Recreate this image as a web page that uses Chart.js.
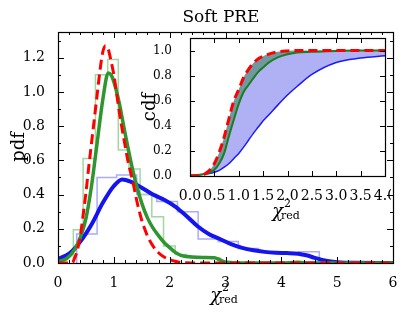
<!DOCTYPE html>
<html>
<head>
<meta charset="utf-8">
<script src="https://cdn.jsdelivr.net/npm/chart.js@4/dist/chart.umd.min.js"></script>
<style>
  html, body { margin: 0; padding: 0; background: #fff; }
  #wrap { position: relative; width: 407px; height: 318px; }
  #main { position: absolute; left: 0; top: 0; }
  #inset { position: absolute; left: 120px; top: 28px; }
</style>
</head>
<body>
<div id="wrap">
  <canvas id="main" width="407" height="318"></canvas>
  <canvas id="inset" width="271" height="200"></canvas>
</div>
<script>
// pdf panel: smooth curves
const blueX = [0, 0.2, 0.4, 0.6, 0.8, 1.0, 1.15, 1.3, 1.5, 1.7, 1.9, 2.1, 2.3, 2.5, 2.7, 2.9, 3.1, 3.3, 3.5, 3.7, 3.9, 4.1, 4.3, 4.45, 4.6, 4.8, 5.0, 5.3, 6.0];
const bluePdf = [0.023, 0.055, 0.125, 0.225, 0.35, 0.45, 0.488, 0.475, 0.44, 0.40, 0.37, 0.33, 0.275, 0.215, 0.17, 0.14, 0.11, 0.088, 0.074, 0.065, 0.06, 0.058, 0.054, 0.045, 0.03, 0.013, 0.005, 0.001, 0];

const greenX = [0, 0.15, 0.3, 0.4, 0.5, 0.6, 0.7, 0.8, 0.9, 0.95, 1.0, 1.1, 1.2, 1.3, 1.4, 1.5, 1.6, 1.7, 1.8, 1.9, 2.0, 2.1, 2.2, 2.4, 2.6, 2.8, 2.9, 3.0, 3.2, 4.0, 4.3, 4.5, 6.0];
const greenPdf = [0.01, 0.025, 0.08, 0.15, 0.26, 0.45, 0.70, 0.95, 1.11, 1.10, 1.06, 0.93, 0.76, 0.60, 0.46, 0.35, 0.265, 0.205, 0.16, 0.12, 0.09, 0.062, 0.045, 0.035, 0.032, 0.03, 0.018, 0.005, 0, 0, 0.004, 0, 0];

const redX = [0, 0.25, 0.3, 0.35, 0.4, 0.45, 0.5, 0.55, 0.6, 0.65, 0.7, 0.75, 0.8, 0.85, 0.9, 0.95, 1.0, 1.05, 1.1, 1.15, 1.2, 1.25, 1.3, 1.35, 1.4, 1.45, 1.5, 1.6, 1.7, 1.8, 1.9, 2.0, 2.1, 2.2, 2.4, 6.0];
const redPdf = [0, 0, 0.03, 0.08, 0.16, 0.28, 0.41, 0.56, 0.70, 0.84, 0.98, 1.12, 1.23, 1.27, 1.25, 1.18, 1.10, 0.99, 0.88, 0.78, 0.69, 0.60, 0.53, 0.46, 0.38, 0.31, 0.25, 0.16, 0.10, 0.06, 0.035, 0.02, 0.01, 0.003, 0, 0];

// pdf panel: step histograms (bin edges and heights)
const greenEdges = [0.275, 0.45, 0.67, 0.89, 1.08, 1.27, 1.47, 1.68, 1.89, 2.1, 2.3, 2.5, 2.7, 2.9, 3.1];
const greenHist = [0.195, 0.61, 1.10, 1.19, 0.66, 0.55, 0.40, 0.27, 0.10, 0.05, 0.03, 0.03, 0.03, 0.01];
const blueEdges = [0.335, 0.70, 1.05, 1.41, 1.77, 2.14, 2.51, 2.87, 3.23, 3.59, 3.95, 4.31, 4.68];
const blueHist = [0.17, 0.50, 0.515, 0.40, 0.36, 0.30, 0.14, 0.125, 0.085, 0.065, 0.055, 0.066];

// inset: cdf
const cdfX = [0, 0.2, 0.3, 0.4, 0.5, 0.6, 0.7, 0.8, 0.9, 1.0, 1.1, 1.2, 1.3, 1.4, 1.5, 1.6, 1.8, 2.0, 2.2, 2.5, 3.0, 3.5, 4.0];
const redCdf = [0, 0.002, 0.015, 0.045, 0.10, 0.19, 0.31, 0.46, 0.60, 0.69, 0.785, 0.85, 0.90, 0.935, 0.955, 0.97, 0.99, 0.997, 1, 1, 1, 1, 1];
const greenCdf = [0.005, 0.01, 0.015, 0.025, 0.05, 0.10, 0.18, 0.32, 0.45, 0.575, 0.67, 0.725, 0.78, 0.83, 0.865, 0.90, 0.945, 0.97, 0.985, 0.99, 0.997, 1, 1];
const blueCdf = [0, 0.01, 0.015, 0.02, 0.03, 0.045, 0.07, 0.10, 0.14, 0.18, 0.23, 0.285, 0.34, 0.39, 0.44, 0.48, 0.565, 0.645, 0.715, 0.81, 0.905, 0.94, 0.958];

const SERIF = '"DejaVu Serif", serif';

function pts(xs, ys) {
  return xs.map((x, i) => ({ x: x, y: ys[i] }));
}

function steps(edges, h) {
  const out = [{ x: edges[0], y: 0 }];
  h.forEach((v, i) => out.push({ x: edges[i], y: v }));
  out.push({ x: edges[edges.length - 1], y: 0 });
  return out;
}

function curve(data, color, width, dash) {
  return {
    data: data, borderColor: color, borderWidth: width, borderDash: dash || [],
    pointRadius: 0, cubicInterpolationMode: 'monotone', fill: false
  };
}

// box + inward ticks on all four sides
const frame = {
  id: 'frame',
  afterDraw(chart, args, o) {
    const { ctx, chartArea: a } = chart;
    const x = chart.scales.x, y = chart.scales.y;
    ctx.save();
    ctx.strokeStyle = '#000';
    ctx.lineWidth = 1;
    const marks = (scale, step, len, horiz) => {
      const n = Math.round((scale.max - scale.min) / step);
      for (let i = 0; i <= n; i++) {
        const v = scale.min + i * step;
        if (v > scale.max + 1e-9) break;
        const p = Math.round(scale.getPixelForValue(v)) + 0.5;
        ctx.beginPath();
        if (horiz) {
          ctx.moveTo(p, a.bottom); ctx.lineTo(p, a.bottom - len);
          ctx.moveTo(p, a.top); ctx.lineTo(p, a.top + len);
        } else {
          ctx.moveTo(a.left, p); ctx.lineTo(a.left + len, p);
          ctx.moveTo(a.right, p); ctx.lineTo(a.right - len, p);
        }
        ctx.stroke();
      }
    };
    marks(x, o.xMajor, o.major, true);
    marks(y, o.yMajor, o.major, false);
    if (o.xMinor) marks(x, o.xMinor, o.minor, true);
    if (o.yMinor) marks(y, o.yMinor, o.minor, false);
    ctx.lineWidth = 1.2;
    ctx.strokeRect(Math.round(a.left) + 0.5, Math.round(a.top) + 0.5,
      Math.round(a.right - a.left), Math.round(a.bottom - a.top));
    ctx.restore();
  }
};

function chiRed(ctx, cx, base) {
  ctx.save();
  ctx.fillStyle = '#000';
  ctx.textBaseline = 'alphabetic';
  ctx.textAlign = 'left';
  ctx.font = 'italic 18px ' + SERIF;
  const w = ctx.measureText('χ').width;
  ctx.font = '11px ' + SERIF;
  const ws = ctx.measureText('red').width;
  const x0 = cx - (w - 2 + ws) / 2;
  ctx.font = 'italic 18px ' + SERIF;
  ctx.fillText('χ', x0, base);
  ctx.font = '11px ' + SERIF;
  ctx.fillText('2', x0 + w + 1, base - 10);
  ctx.fillText('red', x0 + w - 2, base + 2);
  ctx.restore();
}

const mainText = {
  id: 'mainText',
  afterDraw(chart) {
    const ctx = chart.ctx;
    ctx.save();
    ctx.fillStyle = '#000';
    ctx.textAlign = 'center';
    ctx.textBaseline = 'alphabetic';
    ctx.font = '17px ' + SERIF;
    ctx.fillText('Soft PRE', 221, 22);
    ctx.translate(24, 147);
    ctx.rotate(-Math.PI / 2);
    ctx.font = '18px ' + SERIF;
    ctx.fillText('pdf', 0, 0);
    ctx.restore();
    chiRed(ctx, 224, 301);
  }
};

const insetText = {
  id: 'insetText',
  beforeDraw(chart) {
    const { ctx, chartArea: a } = chart;
    ctx.save();
    ctx.fillStyle = '#fff';
    ctx.fillRect(a.left, a.top, a.right - a.left, a.bottom - a.top);
    ctx.restore();
  },
  afterDraw(chart) {
    const ctx = chart.ctx;
    ctx.save();
    ctx.fillStyle = '#000';
    ctx.textAlign = 'center';
    ctx.textBaseline = 'alphabetic';
    ctx.translate(35, 79);
    ctx.rotate(-Math.PI / 2);
    ctx.font = '18px ' + SERIF;
    ctx.fillText('cdf', 0, 0);
    ctx.restore();
    chiRed(ctx, 166, 189);
  }
};

function scaleOpts(min, max, step, size, pad) {
  return {
    type: 'linear', min: min, max: max,
    grid: { display: false }, border: { display: false },
    ticks: {
      stepSize: step, includeBounds: false, autoSkip: false, maxRotation: 0,
      padding: pad, color: '#000', font: { family: SERIF, size: size },
      callback: v => v.toFixed(1)
    }
  };
}

const mx = scaleOpts(0, 6, 1, 14, 4);
mx.ticks.callback = v => String(v);
mx.afterFit = s => { s.height = 55; s.paddingLeft = 0; s.paddingRight = 0; };
const my = scaleOpts(0, 1.35, 0.2, 14, 5);
my.afterFit = s => { s.width = 58; s.paddingTop = 0; s.paddingBottom = 0; };

new Chart(document.getElementById('main'), {
  type: 'scatter',
  data: {
    datasets: [
      curve(pts(redX, redPdf), '#ff0000', 3, [10, 5]),
      curve(pts(greenX, greenPdf), '#2e962e', 3.5),
      curve(pts(blueX, bluePdf), '#1414f0', 4),
      Object.assign(curve(steps(greenEdges, greenHist), '#a2d6a2', 1.5), { stepped: true }),
      Object.assign(curve(steps(blueEdges, blueHist), '#aaaaff', 1.5), { stepped: true })
    ]
  },
  options: {
    responsive: false, animation: false, showLine: true,
    layout: { padding: { top: 32, right: 14, left: 0, bottom: 0 } },
    scales: { x: mx, y: my },
    plugins: {
      legend: { display: false }, tooltip: { enabled: false },
      frame: { xMajor: 1, xMinor: 0.2, yMajor: 0.2, yMinor: 0.1, major: 6, minor: 3 }
    }
  },
  plugins: [frame, mainText]
});

const ix = scaleOpts(0, 4, 0.5, 14, 4);
ix.afterFit = s => { s.height = 52; s.paddingLeft = 0; s.paddingRight = 0; };
const iy = scaleOpts(0, 1.1, 0.2, 12, 10);
iy.afterFit = s => { s.width = 70; s.paddingTop = 0; s.paddingBottom = 0; };

new Chart(document.getElementById('inset'), {
  type: 'scatter',
  data: {
    datasets: [
      curve(pts(cdfX, redCdf), '#ff0000', 3, [9, 5]),
      Object.assign(curve(pts(cdfX, greenCdf), '#1b7d1b', 2), { fill: { target: 0 }, backgroundColor: '#6f98a0' }),
      Object.assign(curve(pts(cdfX, blueCdf), '#1a1aff', 1.5), { fill: { target: 1 }, backgroundColor: '#b0b0f5' })
    ]
  },
  options: {
    responsive: false, animation: false, showLine: true,
    layout: { padding: { top: 10, right: 6, left: 0, bottom: 0 } },
    scales: { x: ix, y: iy },
    plugins: {
      legend: { display: false }, tooltip: { enabled: false },
      frame: { xMajor: 0.5, yMajor: 0.2, major: 5, minor: 3 }
    }
  },
  plugins: [frame, insetText]
});
</script>
</body>
</html>
